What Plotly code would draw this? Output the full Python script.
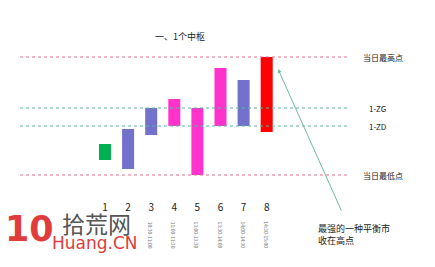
import plotly.graph_objects as go

# Bar index and time slot of each 30-minute bar
bar_ids = [1, 2, 3, 4, 5, 6, 7, 8]
bar_times = ["", "", "10:30-11:00", "11:00-11:30", "13:00-13:30",
             "13:30-14:00", "14:00-14:30", "14:30-15:00"]

# Low / high of each bar (arbitrary price units)
bar_low = [40, 31, 65, 74, 25, 74, 74, 68]
bar_high = [56, 71, 92, 101, 92, 132, 120, 143]
bar_colors = ["#00b050", "#7272cc", "#7272cc", "#ff33cc",
              "#ff33cc", "#ff33cc", "#7272cc", "#ff0000"]

# Reference levels
day_high = 143
zg = 92
zd = 74
day_low = 25
level_values = [day_high, zg, zd, day_low]
level_labels = ["当日最高点", "1-ZG", "1-ZD", "当日最低点"]
level_colors = ["#e0708c", "#5fb3a0", "#5fb3a0", "#e0708c"]

FONT = "Noto Sans CJK SC"

fig = go.Figure()
fig.add_trace(go.Bar(
    x=bar_ids,
    y=[h - l for h, l in zip(bar_high, bar_low)],
    base=bar_low,
    width=0.52,
    marker=dict(color=bar_colors, line=dict(width=0)),
    hoverinfo="skip",
))

shapes = []
annotations = []
for val, lab, col in zip(level_values, level_labels, level_colors):
    shapes.append(dict(type="line", xref="paper", yref="y",
                       x0=20 / 435, x1=348 / 435, y0=val, y1=val,
                       line=dict(color=col, width=1, dash="dot")))
    is_zone = lab.startswith("1-")
    annotations.append(dict(
        xref="paper", yref="y", x=(367 if is_zone else 361) / 435, y=val,
        text=lab, showarrow=False, xanchor="left", yanchor="middle",
        font=dict(family=FONT, size=8, color="#222222")))

# Time slot labels, rotated under the bar numbers
for i, t in zip(bar_ids, bar_times):
    if t:
        annotations.append(dict(
            xref="x", yref="paper", x=i, y=1 - 235 / 267, text=t,
            textangle=90, showarrow=False,
            xanchor="center", yanchor="middle",
            font=dict(family=FONT, size=5, color="#777777")))

# Title
annotations.append(dict(
    xref="paper", yref="paper", x=180 / 435, y=1 - 28 / 267,
    text="一、1个中枢", showarrow=False,
    font=dict(family=FONT, size=9, color="#222222")))

# Arrow pointing at the close of the last bar
annotations.append(dict(
    xref="x", yref="y", x=8.49, y=131, ax=64, ay=143,
    axref="pixel", ayref="pixel", text="", showarrow=True,
    arrowhead=2, arrowsize=0.8, arrowwidth=1, arrowcolor="#70b8a4"))
annotations.append(dict(
    xref="paper", yref="paper", x=316 / 435, y=1 - 234 / 267,
    text="最强的一种平衡市<br>收在高点", showarrow=False,
    xanchor="left", yanchor="middle", align="left",
    font=dict(family=FONT, size=9, color="#222222")))

# Site logo
annotations.append(dict(
    xref="paper", yref="paper", x=3 / 435, y=1 - 229 / 267,
    text="<b>10</b>", showarrow=False, xanchor="left", yanchor="middle",
    font=dict(family="DejaVu Sans", size=35, color="#e03c3c")))
annotations.append(dict(
    xref="paper", yref="paper", x=60 / 435, y=1 - 223 / 267,
    text="拾荒网", showarrow=False, xanchor="left", yanchor="middle",
    font=dict(family=FONT, size=23, color="#555555")))
annotations.append(dict(
    xref="paper", yref="paper", x=50 / 435, y=1 - 243 / 267,
    text="Huang.CN", showarrow=False, xanchor="left", yanchor="middle",
    font=dict(family="DejaVu Sans", size=17, color="#e03c3c")))

fig.update_layout(
    width=435, height=267,
    margin=dict(l=0, r=0, t=0, b=0),
    paper_bgcolor="white", plot_bgcolor="white",
    showlegend=False,
    shapes=shapes,
    annotations=annotations,
    xaxis=dict(range=[1 - 105 / 23.1, 1 + 330 / 23.1],
               tickvals=bar_ids, ticktext=[str(i) for i in bar_ids],
               showgrid=False, zeroline=False, showline=False, ticks="",
               tickfont=dict(family=FONT, size=10, color="#222222"),
               fixedrange=True),
    yaxis=dict(domain=[1 - 200 / 267, 1], range=[0, 200],
               showgrid=False, zeroline=False, showline=False,
               showticklabels=False, fixedrange=True),
)

fig.write_html("out.html")
